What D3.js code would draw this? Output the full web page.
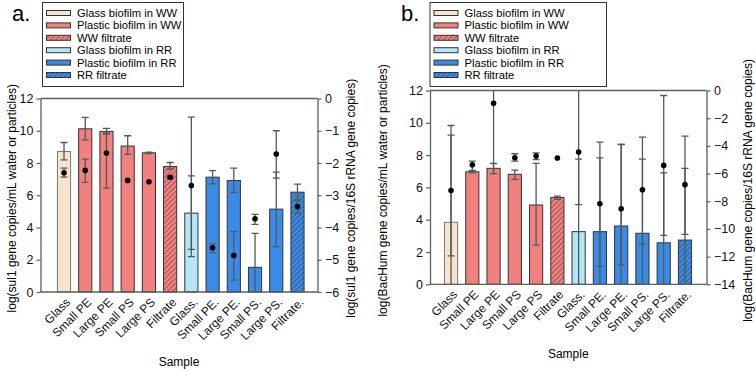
<!DOCTYPE html>
<html>
<head>
<meta charset="utf-8">
<script src="https://cdn.jsdelivr.net/npm/d3@7"></script>
<style>
  body { margin:0; background:#fff; }
  text { font-family: "Liberation Sans", Arial, sans-serif; }
</style>
</head>
<body>
<script>
// samples (same order in both panels)
var samples = ["Glass","Small PE","Large PE","Small PS","Large PS","Filtrate",
               "Glass.","Small PE.","Large PE.","Small PS.","Large PS.","Filtrate."];
// which legend entry each sample belongs to
var sampleGroup = [0,1,1,1,1,2,3,4,4,4,4,5];
var legendLabels = ["Glass biofilm in WW","Plastic biofilm in WW","WW filtrate",
                    "Glass biofilm in RR","Plastic biofilm in RR","RR filtrate"];

// panel a - sul1, bars on left axis
var sul1Bar   = [8.71, 10.12, 9.96, 9.05, 8.63, 7.78, 4.89, 7.12, 6.91, 1.53, 5.14, 6.19];
var sul1BarLo = [8.2, 9.44, 9.85, 8.53, 8.59, 7.62, 2.19, 6.71, 6.17, -0.6, 2.81, 5.71];
var sul1BarHi = [9.27, 10.83, 10.15, 9.69, 8.67, 8.03, 10.85, 7.53, 7.68, 3.64, 7.43, 6.69];
// dots on right axis (per 16S)
var sul1Ratio   = [-2.3, -2.23, -1.69, -2.54, -2.58, -2.44, -2.7, -4.63, -4.87, -3.73, -1.72, -3.35];
var sul1RatioLo = [-2.44, -2.6, -2.78, null, null, -2.47, -4.68, -4.78, -5.63, -3.9, -2.47, -3.56];
var sul1RatioHi = [-2.16, -1.88, -1.1, null, null, -2.41, -2.4, -4.51, -4.13, -3.59, -1.0, -3.17];

// panel b - BacHum
var bacBar   = [3.84, 6.97, 7.18, 6.81, 4.91, 5.38, 3.26, 3.26, 3.61, 3.16, 2.57, 2.74];
var bacBarLo = [-1.6, 6.9, 6.85, 6.5, 2.43, 5.26, -1.2, -1.3, -1.4, -1.4, -1.8, -1.7];
var bacBarHi = [9.24, 7.05, 7.48, 7.07, 7.49, 5.46, 7.75, 7.83, 8.66, 7.75, 6.9, 7.18];
var bacRatio   = [-7.22, -5.36, -0.92, -4.86, -4.74, -4.88, -4.45, -8.18, -8.54, -7.17, -5.41, -6.8];
var bacRatioLo = [-11.95, -5.82, -6.0, -5.1, -5.0, null, -8.25, -12.7, -12.6, -11.1, -10.46, -10.4];
var bacRatioHi = [-2.53, -5.1, 3.0, -4.57, -4.5, null, 0.5, -3.73, -3.9, -3.37, -0.36, -3.3];

// tick values
var leftTicksA = [0,2,4,6,8,10,12];
var rightTicksA = [0,-1,-2,-3,-4,-5,-6];
var leftTicksB = [0,2,4,6,8,10,12];
var rightTicksB = [0,-2,-4,-6,-8,-10,-12,-14];

var groupFill = ["#f8e3cf","#f2807f","url(#hatchWW)","#b5e6f5","#3a8ae6","url(#hatchRR)"];
var axisCol = "#56625f";
var errCol = "#4f5b5b";

var svg = d3.select("body").append("svg").attr("width",756).attr("height",371);
var defs = svg.append("defs");

function hatch(id, bg){
  var p = defs.append("pattern").attr("id",id).attr("patternUnits","userSpaceOnUse")
    .attr("width",3.6).attr("height",3.6).attr("patternTransform","rotate(45)");
  p.append("rect").attr("width",3.6).attr("height",3.6).attr("fill",bg);
  p.append("line").attr("x1",0).attr("y1",0).attr("x2",0).attr("y2",3.6)
    .attr("stroke","#3a2a2a").attr("stroke-width",0.9);
}
hatch("hatchWW","#f2807f");
hatch("hatchRR","#3a8ae6");

function drawPanel(cfg){
  var g = svg.append("g");
  var x = d3.scaleBand().domain(samples).range(cfg.xRange).paddingInner(0.38).paddingOuter(0.19);
  var y = d3.scaleLinear().domain([0,12]).range([cfg.bottom, cfg.top]);
  var y2 = d3.scaleLinear().domain(cfg.rightDomain).range([cfg.bottom, cfg.top]);

  var clipId = "clip" + cfg.name;
  defs.append("clipPath").attr("id",clipId).append("rect")
    .attr("x",cfg.left).attr("y",cfg.top).attr("width",cfg.right-cfg.left).attr("height",cfg.bottom-cfg.top);

  // bars
  g.append("g").selectAll("rect").data(samples).enter().append("rect")
    .attr("x", function(d){ return x(d); })
    .attr("width", x.bandwidth())
    .attr("y", function(d,i){ return y(cfg.bar[i]); })
    .attr("height", function(d,i){ return y(0) - y(cfg.bar[i]); })
    .attr("fill", function(d,i){ return groupFill[sampleGroup[i]]; })
    .attr("stroke", function(d,i){ return sampleGroup[i]==0 ? "#777" : "#333"; })
    .attr("stroke-width",1);

  // error bars
  var eg = g.append("g").attr("clip-path","url(#"+clipId+")")
    .attr("stroke",errCol).attr("stroke-width",1.3).attr("fill","none");
  function errBars(lo, hi, sc){
    samples.forEach(function(s,i){
      if (lo[i]==null) return;
      var cx = x(s) + x.bandwidth()/2;
      eg.append("line").attr("x1",cx).attr("x2",cx).attr("y1",sc(lo[i])).attr("y2",sc(hi[i]));
      [lo[i],hi[i]].forEach(function(v){
        eg.append("line").attr("x1",cx-3.5).attr("x2",cx+3.5).attr("y1",sc(v)).attr("y2",sc(v));
      });
    });
  }
  errBars(cfg.barLo, cfg.barHi, y);
  errBars(cfg.dotLo, cfg.dotHi, y2);

  // dots
  g.append("g").selectAll("circle").data(samples).enter().append("circle")
    .attr("cx", function(d){ return x(d) + x.bandwidth()/2; })
    .attr("cy", function(d,i){ return y2(cfg.dot[i]); })
    .attr("r",2.8).attr("fill","#000");

  // frame top line
  g.append("line").attr("x1",cfg.left).attr("x2",cfg.right).attr("y1",cfg.top).attr("y2",cfg.top)
    .attr("stroke",axisCol).attr("stroke-width",1.3);

  // axes
  var la = g.append("g").attr("transform","translate("+cfg.left+",0)")
    .call(d3.axisLeft(y).tickValues(cfg.leftTicks).tickSize(4).tickSizeOuter(0));
  var ra = g.append("g").attr("transform","translate("+cfg.right+",0)")
    .call(d3.axisRight(y2).tickValues(cfg.rightTicks).tickSize(4).tickSizeOuter(0).tickFormat(d3.format("d")));
  var ba = g.append("g").attr("transform","translate(0,"+cfg.bottom+")")
    .call(d3.axisBottom(x).tickSize(0).tickSizeOuter(0));
  ba.select(".domain").attr("d","M"+cfg.left+",0H"+cfg.right);
  [la,ra,ba].forEach(function(a){
    a.select(".domain").attr("stroke",axisCol).attr("stroke-width",1.3);
    a.selectAll(".tick line").attr("stroke",axisCol).attr("stroke-width",1.2);
    a.selectAll("text").attr("font-family","Liberation Sans, Arial").attr("fill","#111");
  });
  la.selectAll("text").attr("font-size",12.5).attr("x",-7);
  ra.selectAll("text").attr("font-size",12.5).attr("x",7.5);
  ba.selectAll("text").attr("font-size",12).attr("text-anchor","end")
    .attr("transform","translate(4,8) rotate(-45)").attr("y",0).attr("dy","0.35em");

  // axis titles
  var midY = (cfg.top + cfg.bottom)/2 + 3;
  g.append("text").attr("transform","translate("+cfg.leftLabelX+","+midY+") rotate(-90)")
    .attr("text-anchor","middle").attr("dominant-baseline","central").attr("font-size",12)
    .text(cfg.leftLabel);
  g.append("text").attr("transform","translate("+cfg.rightLabelX+","+midY+") rotate(-90)")
    .attr("text-anchor","middle").attr("dominant-baseline","central").attr("font-size",12)
    .text(cfg.rightLabel);
  g.append("text").attr("x",(cfg.left+cfg.right)/2).attr("y",cfg.bottom+74)
    .attr("text-anchor","middle").attr("font-size",12).text("Sample");

  // panel letter
  g.append("text").attr("x",cfg.letterX).attr("y",21).attr("font-size",22).text(cfg.letter);

  // legend
  var lg = g.append("g").attr("transform","translate("+cfg.legendX+",2)");
  lg.append("rect").attr("x",0.5).attr("y",0.5).attr("width",cfg.legendW).attr("height",84)
    .attr("fill","#fff").attr("stroke","#333").attr("stroke-width",1);
  legendLabels.forEach(function(l,i){
    var yy = 11 + i*12.4;
    lg.append("rect").attr("x",4.5).attr("y",yy-2.5).attr("width",24).attr("height",5)
      .attr("fill",groupFill[i]).attr("stroke","#333").attr("stroke-width",1);
    lg.append("text").attr("x",35).attr("y",yy).attr("dy","0.35em").attr("font-size",11.2).text(l);
  });
}

drawPanel({
  name:"A", letter:"a.", letterX:12,
  left:40.5, right:317.5, top:98.5, bottom:292, xRange:[53.4,308.1],
  rightDomain:[-6,0], leftTicks:leftTicksA, rightTicks:rightTicksA,
  bar:sul1Bar, barLo:sul1BarLo, barHi:sul1BarHi,
  dot:sul1Ratio, dotLo:sul1RatioLo, dotHi:sul1RatioHi,
  leftLabel:"log(sul1 gene copies/mL water or particles)",
  rightLabel:"log(sul1 gene copies/16S rRNA gene copies)",
  leftLabelX:12, rightLabelX:351,
  legendX:42, legendW:141
});

drawPanel({
  name:"B", letter:"b.", letterX:401,
  left:430, right:706.5, top:90.5, bottom:284.3, xRange:[440.4,695.6],
  rightDomain:[-14,0], leftTicks:leftTicksB, rightTicks:rightTicksB,
  bar:bacBar, barLo:bacBarLo, barHi:bacBarHi,
  dot:bacRatio, dotLo:bacRatioLo, dotHi:bacRatioHi,
  leftLabel:"log(BacHum gene copies/mL water or particles)",
  rightLabel:"log(BacHum gene copies/16S rRNA gene copies)",
  leftLabelX:383, rightLabelX:748,
  legendX:429.5, legendW:176.5
});
</script>
</body>
</html>
